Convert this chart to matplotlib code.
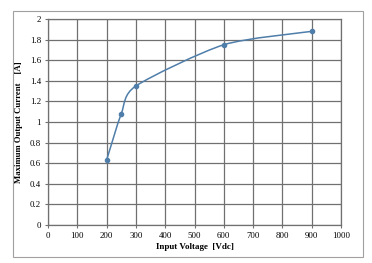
import numpy as np
import matplotlib.pyplot as plt
from matplotlib.path import Path
from matplotlib.patches import PathPatch, Rectangle

# data
voltage = [200, 250, 300, 600, 900]
current = [0.63, 1.08, 1.35, 1.75, 1.88]
x_ticks = [0, 100, 200, 300, 400, 500, 600, 700, 800, 900, 1000]
y_ticks = [0, 0.2, 0.4, 0.6, 0.8, 1.0, 1.2, 1.4, 1.6, 1.8, 2.0]
y_labels = ['0', '0.2', '0.4', '0.6', '0.8', '1', '1.2', '1.4', '1.6', '1.8', '2']

plt.rcParams['font.family'] = ['Liberation Serif', 'DejaVu Serif']

fig = plt.figure(figsize=(3.72, 2.63), dpi=100)
ax = fig.add_axes([48 / 372, 1 - 225 / 263, (341 - 48) / 372, (225 - 19) / 263])

# smoothed line like Excel: cubic bezier segments (Catmull-Rom style control points)
pts = np.column_stack([voltage, current])
verts = [tuple(pts[0])]
codes = [Path.MOVETO]
for i in range(len(pts) - 1):
    p0 = pts[i - 1] if i > 0 else pts[i]
    p1, p2 = pts[i], pts[i + 1]
    p3 = pts[i + 2] if i + 2 < len(pts) else pts[i + 1]
    c1 = p1 + (p2 - p0) / 8
    c2 = p2 - (p3 - p1) / 8
    verts += [tuple(c1), tuple(c2), tuple(p2)]
    codes += [Path.CURVE4] * 3
ax.add_patch(PathPatch(Path(verts, codes), fill=False, edgecolor='#4f7eaa', lw=1.1, zorder=3))
ax.plot(voltage, current, 'o', color='#4f7eaa', ms=3, zorder=4)

ax.set_xlim(0, 1000)
ax.set_ylim(0, 2)
ax.set_xticks(x_ticks)
ax.set_yticks(y_ticks)
ax.set_yticklabels(y_labels)
ax.grid(True, color='#707070', lw=0.9)
ax.set_axisbelow(True)
for s in ax.spines.values():
    s.set_color('#707070')
    s.set_linewidth(0.9)
ax.tick_params(labelsize=6.3, length=2, color='#707070', pad=3)
ax.set_xlabel('Input Voltage  [Vdc]', fontsize=6.5, fontweight='bold', labelpad=2)
ax.set_ylabel('Maximum Output Current    [A]', fontsize=6.3, fontweight='bold', labelpad=5)

# outer frame
fig.patches.append(Rectangle((13 / 372, 1 - 257 / 263), 350 / 372, 246 / 263,
                             transform=fig.transFigure, fill=False,
                             edgecolor='#a0a0a0', lw=0.8))

fig.savefig('out.png', dpi=100)
